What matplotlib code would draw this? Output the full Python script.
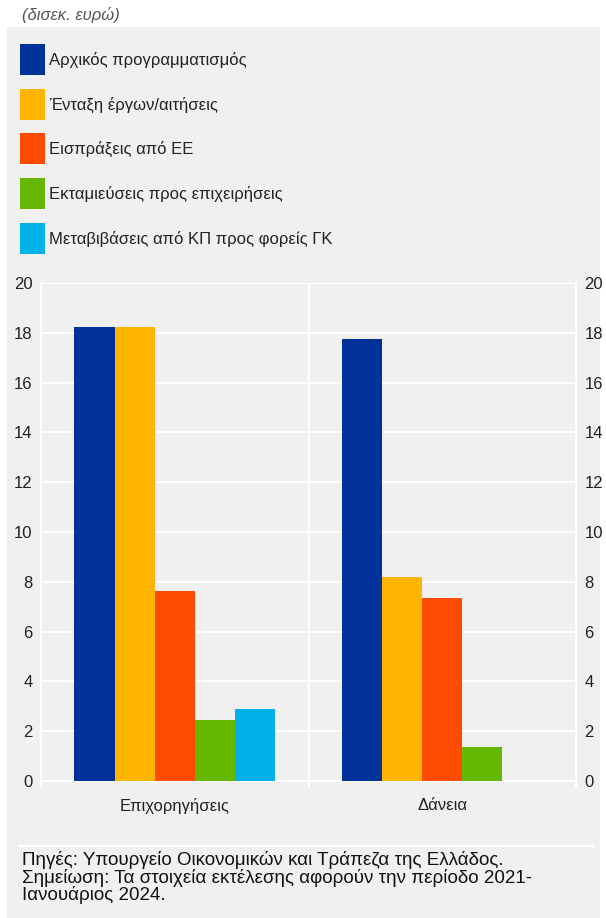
import matplotlib
matplotlib.use("Agg")
import matplotlib.pyplot as plt
import numpy as np
from matplotlib.patches import Rectangle

plt.rcParams['font.family'] = ['Liberation Sans', 'DejaVu Sans']

# data (billion euro)
categories = ["Επιχορηγήσεις", "Δάνεια"]
series_names = ["Αρχικός προγραμματισμός", "Ένταξη έργων/αιτήσεις", "Εισπράξεις από ΕΕ",
                "Εκταμιεύσεις προς επιχειρήσεις", "Μεταβιβάσεις από ΚΠ προς φορείς ΓΚ"]
initial_plan = [18.25, 17.75]
inclusion = [18.25, 8.2]
eu_receipts = [7.62, 7.35]
disbursements = [2.45, 1.37]
transfers = [2.88, 0.0]
colors = ["#003299", "#FFB400", "#FF4B00", "#65B800", "#00B1EA"]

W, H = 606, 918
fig = plt.figure(figsize=(W / 100, H / 100), dpi=100)
fig.patch.set_facecolor("white")

def fx(px):
    return px / W

def fy(py):
    return 1 - py / H

# grey panel behind everything
fig.add_artist(Rectangle((fx(7), 0), fx(600) - fx(7), fy(27), transform=fig.transFigure,
                         facecolor="#F0F0F0", edgecolor="none", zorder=-10))

fig.text(fx(22), fy(15), "(δισεκ. ευρώ)", style="italic", fontsize=12, color="#555555",
         va="center", ha="left")

# legend drawn by hand
for k, name in enumerate(series_names):
    top = 44 + k * 44.7
    fig.add_artist(Rectangle((fx(20), fy(top + 31)), fx(25), 31 / H, transform=fig.transFigure,
                             facecolor=colors[k], edgecolor="none", zorder=1))
    fig.text(fx(49), fy(top + 16), name, fontsize=12, color="#222222", va="center", ha="left")

ax = fig.add_axes([fx(41), fy(787), fx(576) - fx(41), (787 - 283) / H])
ax.set_facecolor("#F0F0F0")

all_series = [initial_plan, inclusion, eu_receipts, disbursements, transfers]
x = np.arange(len(categories))
bw = 0.15
for j, vals in enumerate(all_series):
    ax.bar(x + (j - 2) * bw, vals, width=bw, color=colors[j], zorder=3, linewidth=0)

ax.set_xlim(-0.5, 1.5)
ax.set_ylim(-0.24, 20)
ax.set_yticks(np.arange(0, 21, 2))
ax.yaxis.grid(True, color="white", linewidth=1.5, zorder=1)
ax.axvline(0.5, color="white", linewidth=1.5, zorder=1)
for s in ["top", "bottom"]:
    ax.spines[s].set_visible(False)
for s in ["left", "right"]:
    ax.spines[s].set_color("white")
    ax.spines[s].set_linewidth(1.5)
ax.tick_params(axis="y", length=0, labelsize=12, labelcolor="#222222", pad=6,
               right=True, labelright=True)
ax.set_xticks(x)
ax.set_xticklabels(categories)
ax.tick_params(axis="x", length=0, labelsize=12, labelcolor="#222222", pad=8)

# footer
fig.add_artist(plt.Line2D([fx(19), fx(593)], [fy(846), fy(846)], transform=fig.transFigure,
                          color="white", linewidth=1.5))
fig.text(fx(22), fy(851), "Πηγές: Υπουργείο Οικονομικών και Τράπεζα της Ελλάδος.\n"
         "Σημείωση: Τα στοιχεία εκτέλεσης αφορούν την περίοδο 2021-\n"
         "Ιανουάριος 2024.", fontsize=13.5, color="#111111", va="top", ha="left",
         linespacing=0.97)

fig.savefig("out.png", dpi=100, facecolor=fig.get_facecolor())
